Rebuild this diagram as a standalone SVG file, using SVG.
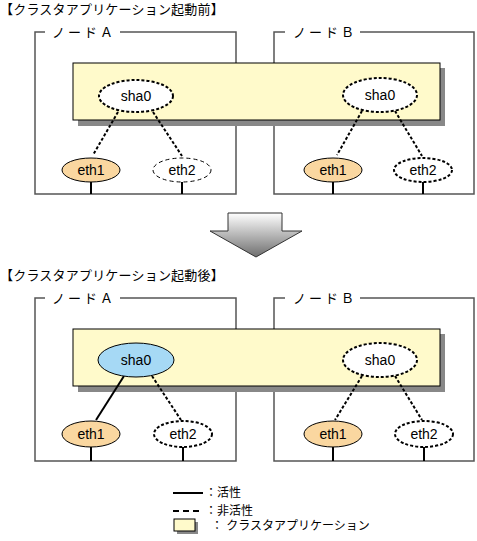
<svg xmlns="http://www.w3.org/2000/svg" width="477" height="541" viewBox="0 0 477 541">
<defs>
<linearGradient id="arrowGrad" x1="0" y1="0" x2="0" y2="1">
<stop offset="0" stop-color="#ffffff"/>
<stop offset="1" stop-color="#6e6e6e"/>
</linearGradient>
<style>
text{font-family:"Liberation Sans","Noto Sans CJK JP",sans-serif;fill:#000}
.title{font-size:13px;letter-spacing:0.2px}
.nodelbl{font-size:13px;letter-spacing:3px}
.lbl{font-size:14px;text-anchor:middle}
.leg{font-size:12px}
.box{fill:none;stroke:#555;stroke-width:1.5}
.app{fill:#fffacb;stroke:#000;stroke-width:1}
.shadow{fill:#888;stroke:none}
.dotted{fill:#fff;stroke:#000;stroke-width:2;stroke-dasharray:3 2}
.thindash{fill:#fff;stroke:#000;stroke-width:1;stroke-dasharray:4 3}
.active{fill:#a6d9f5;stroke:#000;stroke-width:1}
.eth{fill:#fad7a0;stroke:#000;stroke-width:1}
.conn-dot{stroke:#000;stroke-width:2;stroke-dasharray:3 2;fill:none}
.conn-solid{stroke:#000;stroke-width:2;fill:none}
.wire{stroke:#000;stroke-width:2}
</style>
</defs>

<!-- Titles -->
<text class="title" x="0" y="14">【クラスタアプリケーション起動前】</text>
<text class="title" x="0" y="280">【クラスタアプリケーション起動後】</text>

<!-- ===== Upper section ===== -->
<g id="nodeA-before">
<path class="box" d="M45 32 H35 V194 H236 V32 H120"/>
<text class="nodelbl" x="52" y="37">ノードＡ</text>
</g>
<g id="nodeB-before">
<path class="box" d="M285 32 H274 V194 H474 V32 H360"/>
<text class="nodelbl" x="293" y="37">ノードＢ</text>
</g>
<g id="app-before">
<rect class="shadow" x="78" y="68" width="367" height="58"/>
<rect class="app" x="73" y="63" width="367" height="57"/>
</g>

<g id="connectors-before">
<line class="conn-dot" x1="118" y1="112" x2="93" y2="155"/>
<line class="conn-dot" x1="153" y1="112" x2="182" y2="156"/>
<line class="conn-dot" x1="362" y1="111" x2="337" y2="155"/>
<line class="conn-dot" x1="395" y1="111" x2="422" y2="156"/>
<line class="wire" x1="91" y1="182" x2="91" y2="194"/>
<line class="wire" x1="182" y1="182" x2="182" y2="194"/>
<line class="wire" x1="333" y1="182" x2="333" y2="194"/>
<line class="wire" x1="423" y1="182" x2="423" y2="194"/>
</g>

<g id="shaA-before">
<ellipse class="dotted" cx="136" cy="96" rx="37" ry="16"/>
<text class="lbl" x="136" y="101">sha0</text>
</g>
<g id="shaB-before">
<ellipse class="dotted" cx="380" cy="95" rx="37" ry="17"/>
<text class="lbl" x="380" y="100">sha0</text>
</g>
<g id="eth1A-before">
<ellipse class="eth" cx="91" cy="170" rx="29" ry="12"/>
<text class="lbl" x="91" y="175">eth1</text>
</g>
<g id="eth2A-before">
<ellipse class="thindash" cx="182" cy="170" rx="29" ry="12"/>
<text class="lbl" x="182" y="175">eth2</text>
</g>
<g id="eth1B-before">
<ellipse class="eth" cx="333" cy="170" rx="29" ry="12"/>
<text class="lbl" x="333" y="175">eth1</text>
</g>
<g id="eth2B-before">
<ellipse class="dotted" cx="423" cy="170" rx="29" ry="12"/>
<text class="lbl" x="423" y="175">eth2</text>
</g>

<!-- Transition arrow -->
<g id="transition-arrow">
<polygon points="228,213 282,213 282,231 302,231 256,257 210,231 228,231" fill="url(#arrowGrad)" stroke="#333" stroke-width="1"/>
</g>

<!-- ===== Lower section ===== -->
<g id="nodeA-after">
<path class="box" d="M45 298 H35 V461 H236 V298 H120"/>
<text class="nodelbl" x="52" y="303">ノードＡ</text>
</g>
<g id="nodeB-after">
<path class="box" d="M285 298 H274 V461 H474 V298 H360"/>
<text class="nodelbl" x="293" y="303">ノードＢ</text>
</g>
<g id="app-after">
<rect class="shadow" x="78" y="334" width="367" height="58"/>
<rect class="app" x="73" y="329" width="367" height="57"/>
</g>

<g id="connectors-after">
<line class="conn-solid" x1="124" y1="376" x2="96" y2="420"/>
<line class="conn-dot" x1="152" y1="376" x2="181" y2="420"/>
<line class="conn-dot" x1="362" y1="376" x2="335" y2="420"/>
<line class="conn-dot" x1="395" y1="376" x2="422" y2="420"/>
<line class="wire" x1="91" y1="447" x2="91" y2="461"/>
<line class="wire" x1="183" y1="447" x2="183" y2="461"/>
<line class="wire" x1="333" y1="447" x2="333" y2="461"/>
<line class="wire" x1="424" y1="447" x2="424" y2="461"/>
</g>

<g id="shaA-after">
<ellipse class="active" cx="136" cy="360" rx="38" ry="17"/>
<text class="lbl" x="136" y="365">sha0</text>
</g>
<g id="shaB-after">
<ellipse class="dotted" cx="380" cy="360" rx="37" ry="17"/>
<text class="lbl" x="380" y="365">sha0</text>
</g>
<g id="eth1A-after">
<ellipse class="eth" cx="91" cy="434" rx="29" ry="13"/>
<text class="lbl" x="91" y="439">eth1</text>
</g>
<g id="eth2A-after">
<ellipse class="dotted" cx="183" cy="434" rx="29" ry="13"/>
<text class="lbl" x="183" y="439">eth2</text>
</g>
<g id="eth1B-after">
<ellipse class="eth" cx="333" cy="434" rx="29" ry="13"/>
<text class="lbl" x="333" y="439">eth1</text>
</g>
<g id="eth2B-after">
<ellipse class="dotted" cx="424" cy="434" rx="29" ry="13"/>
<text class="lbl" x="424" y="439">eth2</text>
</g>

<!-- Legend -->
<g id="legend">
<line class="conn-solid" x1="173" y1="493" x2="203" y2="493"/>
<text class="leg" x="205" y="497">：活性</text>
<line x1="173" y1="511" x2="203" y2="511" stroke="#000" stroke-width="2" stroke-dasharray="6 4"/>
<text class="leg" x="205" y="515">：非活性</text>
<rect class="shadow" x="177" y="522" width="21" height="12"/>
<rect class="app" x="174" y="519" width="21" height="12"/>
<text class="leg" x="211" y="530">： クラスタアプリケーション</text>
</g>
</svg>
